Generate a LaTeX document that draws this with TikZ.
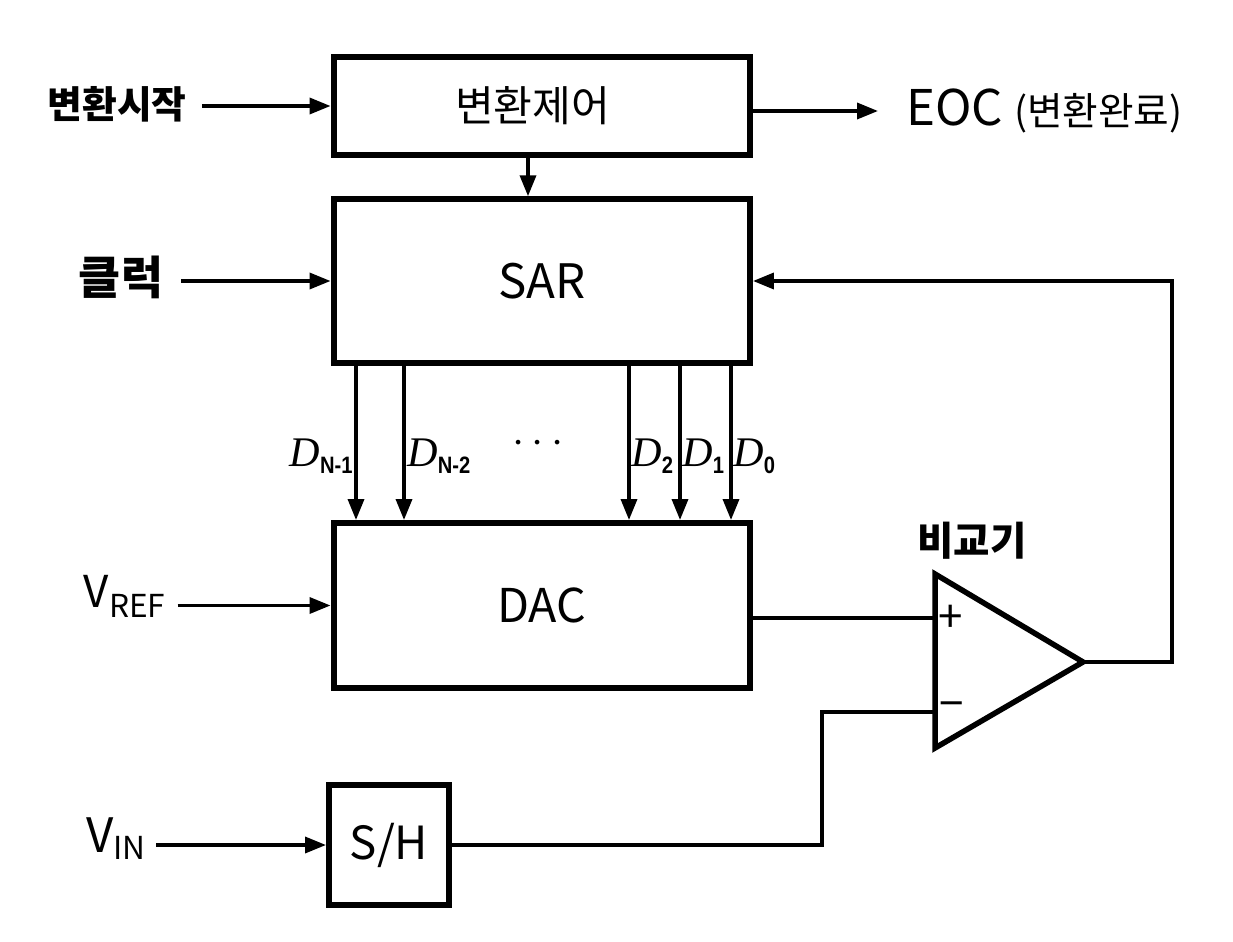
\documentclass[tikz,border=0pt]{standalone}
\usepackage{fontspec}
\setmainfont{Noto Sans CJK KR}
\newfontfamily\subfont{Liberation Sans}
\newfontfamily\dfont{Liberation Serif}
\usetikzlibrary{arrows.meta}
\newcommand{\fsz}[1]{\fontsize{#1}{#1}\selectfont}
\newcommand{\dbit}[1]{{\dfont\itshape\fsz{24}D}\raisebox{-4pt}{\scalebox{0.85}[1]{\subfont\bfseries\fsz{13.5}#1}}}
\tikzset{
  blk/.style={draw, line width=0.12cm, inner sep=0pt, minimum width=8.33cm},
  sig/.style={line width=0.07cm, -{Triangle[length=0.42cm,width=0.32cm]}},
  wire/.style={line width=0.08cm},
  lbl/.style={inner sep=0pt},
  dlbl/.style={inner sep=0pt, anchor=#1},
}
\begin{document}
\begin{tikzpicture}[x=0.02cm, y=-0.02cm]
  \useasboundingbox (0,0) rectangle (1233,942);
  % blocks
  \node[blk, minimum height=1.97cm, font=\fsz{24}] (ctrl) at (541.75,106) {변환제어\kern0.36cm};
  \node[blk, minimum height=3.27cm, font=\fsz{27}] (sar) at (541.75,281) {SAR};
  \node[blk, minimum height=3.3cm, font=\fsz{26.5}] (dac) at (541.75,605.5) {DAC};
  \node[blk, minimum width=2.4cm, minimum height=2.4cm, font=\fsz{26}] (sh) at (389,845) {S/H};
  % comparator
  \coordinate (cmpT) at (935,574);
  \coordinate (cmpB) at (935,748);
  \coordinate (cmpO) at (1083,662);
  \coordinate (cmpP) at (935,618);
  \coordinate (cmpN) at (935,712);
  \draw[line width=0.11cm] (cmpT) -- (cmpO) -- (cmpB) -- cycle;
  \node[lbl, font=\fsz{25}] (plus) at (951,619) {+};
  \node[lbl, font=\fsz{25}] (minus) at (952,711) {−};
  \node[lbl, font=\bfseries\fsz{22.5}] (cmp) at (972,541) {비교기};
  % labels
  \node[lbl, font=\bfseries\fsz{21.5}] (start) at (117,104) {변환시작};
  \node[lbl, font=\bfseries\fsz{26}] (clk) at (121,277) {클럭};
  \node[lbl, font=\fsz{25}] (vref) at (124.5,596) {V\raisebox{-5.7pt}{\fsz{18}REF}};
  \node[lbl, font=\fsz{27}] (vin) at (116,839) {V\raisebox{-4pt}{\fsz{18}IN}};
  \node[lbl, font=\fsz{28}, anchor=west, inner xsep=0.56cm] (eoc) at (878,111) {EOC {\fsz{22}(변환완료)}};
  % inputs and outputs
  \draw[sig] ([xshift=0.3cm]start.east |- ctrl) -- (ctrl.west);
  \draw[sig] ([xshift=0.36cm]clk.east |- sar) -- (sar.west);
  \draw[sig] ([xshift=0.24cm]vref.east |- dac) -- (dac.west);
  \draw[sig] ([xshift=0.2cm]vin.east |- sh) -- (sh.west);
  \draw[sig] (ctrl.east |- eoc) -- (eoc.west);
  \coordinate (cs) at (528,0);
  \draw[sig] (ctrl.south -| cs) -- (sar.north -| cs);
  % data bits
  \foreach \x [count=\i] in {356,404,629,680,731} {
    \coordinate (d\i) at (\x,0);
    \draw[sig] (sar.south -| d\i) -- (dac.north -| d\i);
  }
  \node[dlbl=east] (bN1) at (353,456) {\dbit{N-1}};
  \node[dlbl=west] (bN2) at (407,456) {\dbit{N-2}};
  \node[lbl, font=\fsz{23}] (dots) at (538,444) {$\cdots$};
  \node[dlbl=west] (b2) at (631,456) {\dbit{2}};
  \node[dlbl=west] (b1) at (682,456) {\dbit{1}};
  \node[dlbl=west] (b0) at (733,456) {\dbit{0}};
  % wires
  \draw[wire] (cmpP -| dac.east) -- (cmpP);
  \coordinate (bend) at (822,0);
  \draw[wire] (sh.east) -| (bend |- cmpN) -- (cmpN);
  \coordinate (fb) at (1172,0);
  \draw[sig] (cmpO) -| (fb |- sar.east) -- (sar.east);
\end{tikzpicture}
\end{document}
